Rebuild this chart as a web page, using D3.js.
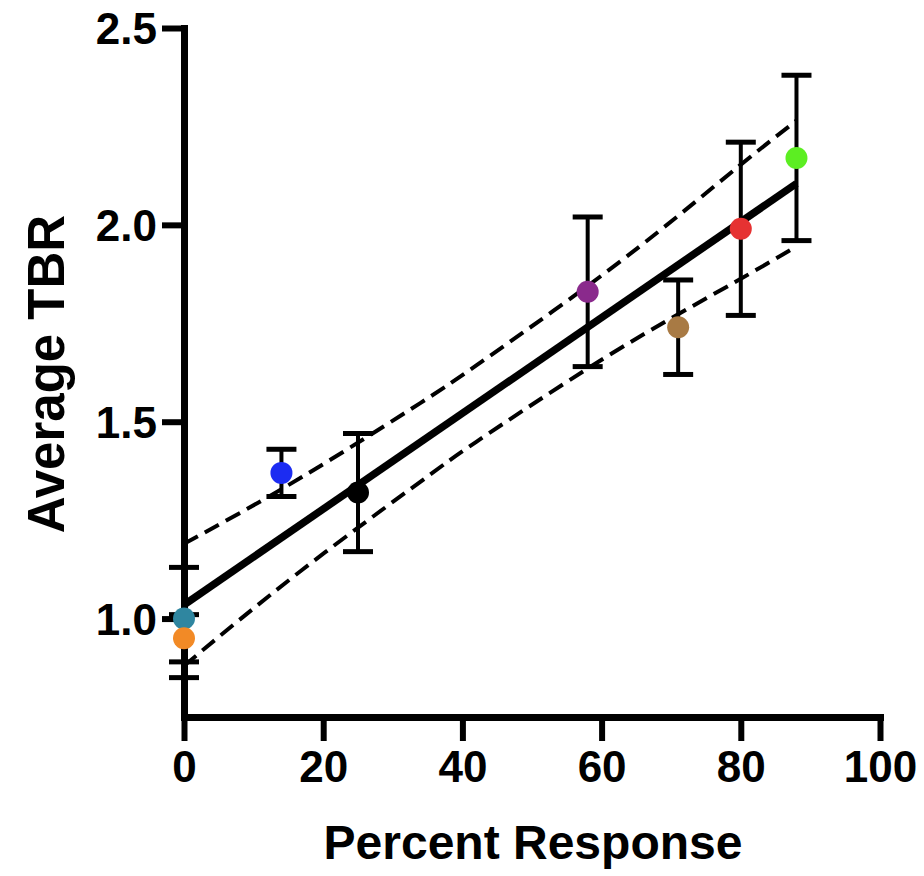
<!DOCTYPE html>
<html>
<head>
<meta charset="utf-8">
<script src="https://cdn.jsdelivr.net/npm/d3@7"></script>
<style>
  html, body { margin: 0; padding: 0; background: #fff; }
  svg { display: block; }
  text { font-family: "Liberation Sans", Arial, Helvetica, sans-serif; font-weight: bold; fill: #000; }
</style>
</head>
<body>
<div id="chart"></div>
<script>
// ---- data ----
const percentResponse = [0, 0, 14, 25, 58, 71, 80, 88];
const averageTBR      = [1.00, 0.95, 1.37, 1.32, 1.83, 1.74, 1.99, 2.17];
const errorLow        = [0.85, 0.89, 1.31, 1.17, 1.64, 1.62, 1.77, 1.96];
const errorHigh       = [1.13, 1.01, 1.43, 1.47, 2.02, 1.86, 2.21, 2.38];
const pointColors     = ["#2f86a0", "#f28a26", "#1c2cf2", "#000000", "#8a2a8c", "#a87a44", "#e63232", "#5cee22"];

const fitX = [0, 88];
const fitY = [1.035, 2.105];

const bandX     = [0, 17, 34, 42, 58, 71, 80, 88];
const bandUpper = [1.19, 1.36, 1.548, 1.643, 1.845, 2.023, 2.153, 2.265];
const bandLower = [0.88, 1.124, 1.348, 1.449, 1.635, 1.773, 1.863, 1.945];

const xTicks = [0, 20, 40, 60, 80, 100];
const yTicks = [1.0, 1.5, 2.0, 2.5];
const xTitle = "Percent Response";
const yTitle = "Average TBR";

// ---- layout ----
const W = 924, H = 876;
const svg = d3.select("#chart").append("svg").attr("width", W).attr("height", H);

const x = d3.scaleLinear().domain([0, 100]).range([184, 880]);
const y = d3.scaleLinear().domain([0.75, 2.5]).range([717, 28]);

// axes
const xAxis = svg.append("g")
  .attr("transform", `translate(0,${y(0.75)})`)
  .call(d3.axisBottom(x).tickValues(xTicks).tickSize(24).tickSizeOuter(0).tickFormat(d3.format("d")));
const yAxis = svg.append("g")
  .attr("transform", `translate(${x(0)},0)`)
  .call(d3.axisLeft(y).tickValues(yTicks).tickSize(22).tickSizeOuter(0).tickFormat(d3.format(".1f")));

[xAxis, yAxis].forEach(g => {
  g.select(".domain").attr("stroke", "#000").attr("stroke-width", 7).attr("stroke-linecap", "square");
  g.selectAll(".tick line").attr("stroke", "#000").attr("stroke-width", 6);
  g.selectAll(".tick text").attr("font-size", 44).attr("font-weight", "bold")
    .attr("font-family", "'Liberation Sans', Arial, sans-serif").attr("fill", "#000");
});
xAxis.selectAll(".tick text").attr("y", 34).attr("dy", "0.71em");
yAxis.selectAll(".tick text").attr("x", -27).attr("dy", "0.36em");

// axis titles
svg.append("text").attr("x", 533).attr("y", 859).attr("text-anchor", "middle")
  .attr("font-size", 48).text(xTitle);
svg.append("text").attr("transform", `translate(64,374) rotate(-90)`).attr("text-anchor", "middle")
  .attr("font-size", 51).text(yTitle);

// confidence bands
const bandLine = d3.line().curve(d3.curveNatural).x(d => x(d[0])).y(d => y(d[1]));
[bandUpper, bandLower].forEach(arr => {
  svg.append("path")
    .attr("d", bandLine(bandX.map((v, i) => [v, arr[i]])))
    .attr("fill", "none").attr("stroke", "#000").attr("stroke-width", 4)
    .attr("stroke-dasharray", "16 8");
});

// fit line
svg.append("path")
  .attr("d", d3.line().x(d => x(d[0])).y(d => y(d[1]))(fitX.map((v, i) => [v, fitY[i]])))
  .attr("fill", "none").attr("stroke", "#000").attr("stroke-width", 7.5);

// error bars
const pts = percentResponse.map((v, i) => ({x: v, y: averageTBR[i], lo: errorLow[i], hi: errorHigh[i], c: pointColors[i]}));
const eb = svg.append("g").attr("stroke", "#000");
pts.forEach(p => {
  eb.append("line").attr("x1", x(p.x)).attr("x2", x(p.x)).attr("y1", y(p.lo)).attr("y2", y(p.hi)).attr("stroke-width", 4);
  [p.lo, p.hi].forEach(v => {
    eb.append("line").attr("x1", x(p.x) - 15).attr("x2", x(p.x) + 15).attr("y1", y(v)).attr("y2", y(v)).attr("stroke-width", 5);
  });
});

// points
svg.append("g").selectAll("circle").data(pts).join("circle")
  .attr("cx", d => x(d.x)).attr("cy", d => y(d.y)).attr("r", 11)
  .attr("fill", d => d.c);
</script>
</body>
</html>
